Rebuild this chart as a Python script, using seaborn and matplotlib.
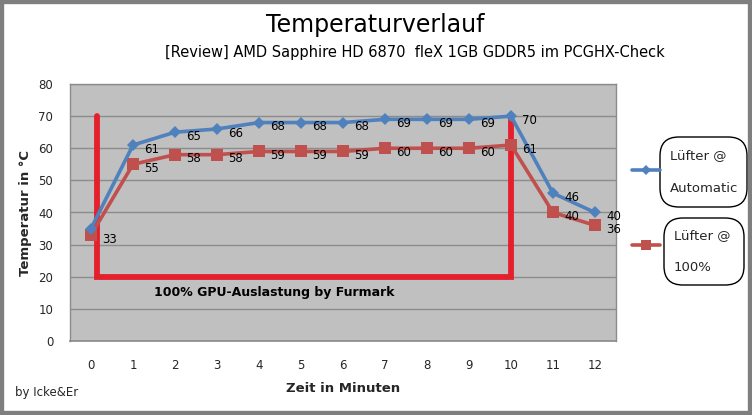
import matplotlib
matplotlib.use("Agg")
import matplotlib.pyplot as plt
import seaborn as sns
import pandas as pd
from matplotlib.patches import FancyBboxPatch, Rectangle
from matplotlib.lines import Line2D

minutes = [0, 1, 2, 3, 4, 5, 6, 7, 8, 9, 10, 11, 12]
auto_vals = [35, 61, 65, 66, 68, 68, 68, 69, 69, 69, 70, 46, 40]
full_vals = [33, 55, 58, 58, 59, 59, 59, 60, 60, 60, 61, 40, 36]
series_names = ["Lüfter @\n\nAutomatic", "Lüfter @\n\n100%"]
auto_labels_shown = [False] + [True] * 12
full_labels_shown = [True] * 13
y_ticks = [0, 10, 20, 30, 40, 50, 60, 70, 80]
box_x = [0.14, 0.14, 10, 10]
box_y = [70, 20, 20, 70]

sns.set_theme(style="white")
plt.rcParams['font.family'] = ['DejaVu Sans']

BLUE = "#4F81BD"
RED = "#C0504D"

fig = plt.figure(figsize=(7.52, 4.15), dpi=100)
fig.patch.set_facecolor("white")
ax = fig.add_axes([70/752, 74/415, 546/752, 257/415])
ax.set_facecolor("#C0C0C0")

df = pd.DataFrame({"min": minutes * 2,
                   "temp": auto_vals + full_vals,
                   "series": [series_names[0]] * 13 + [series_names[1]] * 13})

for y in y_ticks[1:]:
    ax.axhline(y, color="#8C8C8C", lw=1, zorder=1)

# red load box
ax.plot(box_x, box_y, color="#E3202B", lw=4.2, zorder=2, solid_joinstyle="miter")

sns.lineplot(data=df[df.series == series_names[0]], x="min", y="temp", color=BLUE,
             lw=2.6, marker="D", markersize=6, markeredgewidth=0, ax=ax, zorder=4,
             legend=False)
sns.lineplot(data=df[df.series == series_names[1]], x="min", y="temp", color=RED,
             lw=2.6, marker="s", markersize=8.5, markeredgewidth=0, ax=ax, zorder=3,
             legend=False)

for x, v, s in zip(minutes, auto_vals, auto_labels_shown):
    if s:
        ax.annotate(str(v), (x, v), xytext=(8, -3), textcoords="offset points",
                    ha="left", va="center", fontsize=8.5, color="black", zorder=5)
for x, v, s in zip(minutes, full_vals, full_labels_shown):
    ax.annotate(str(v), (x, v), xytext=(8, -3), textcoords="offset points",
                ha="left", va="center", fontsize=8.5, color="black", zorder=5)

ax.text(1.5, 15, "100% GPU-Auslastung by Furmark", fontsize=9, fontweight="bold",
        ha="left", va="center", color="black")

ax.set_xlim(-0.5, 12.5)
ax.set_ylim(0, 80)
ax.set_xticks(minutes)
ax.set_xticklabels([str(m) for m in minutes])
ax.set_yticks(y_ticks)
ax.tick_params(axis="x", length=0, pad=13, labelsize=8.5)
ax.tick_params(axis="y", length=0, pad=12, labelsize=8.5)
for sp in ["left", "right", "top"]:
    ax.spines[sp].set_color("#8C8C8C")
    ax.spines[sp].set_linewidth(1)
ax.spines["bottom"].set_color("#8C8C8C")
ax.set_xlabel("Zeit in Minuten", fontsize=9.5, fontweight="bold", labelpad=7)
ax.set_ylabel("Temperatur in °C", fontsize=9.5, fontweight="bold", labelpad=5)

fig.text(375/752, 1 - 25/415, "Temperaturverlauf", ha="center", va="center",
         fontsize=17, color="black")
fig.text(415/752, 1 - 53/415, "[Review] AMD Sapphire HD 6870  fleX 1GB GDDR5 im PCGHX-Check",
         ha="center", va="center", fontsize=10.5, color="black")
fig.text(15/752, 1 - 392/415, "by Icke&Er", ha="left", va="center", fontsize=8.5)

# legend
W, H = 752, 415
def fx(px):
    return px / W
def fy(py):
    return 1 - py / H
fig.add_artist(Line2D([fx(632), fx(660)], [fy(170), fy(170)], color=BLUE, lw=2.6))
fig.add_artist(Line2D([fx(632), fx(660)], [fy(245), fy(245)], color=RED, lw=2.6))
fig.add_artist(Line2D([fx(646)], [fy(245)], color=RED, marker="s", markersize=7,
                      markeredgewidth=0, lw=0))
fig.add_artist(Line2D([fx(646)], [fy(170)], color=BLUE, marker="D", markersize=5,
                      markeredgewidth=0, lw=0))
for (x0, y0, x1, y1), name in zip([(660, 137, 747, 207), (664, 218, 744, 285)], series_names):
    fig.add_artist(FancyBboxPatch((fx(x0), fy(y1)), fx(x1 - x0), (y1 - y0) / H,
                                  boxstyle="round,pad=0,rounding_size=0.025",
                                  transform=fig.transFigure, fc="white", ec="black", lw=1,
                                  mutation_aspect=W / H))
    fig.text(fx(x0 + 10), fy((y0 + y1) / 2), name, ha="left", va="center", fontsize=9.5,
             linespacing=1.3)

# outer grey frame
fig.add_artist(Rectangle((0, 0), 1, 1, transform=fig.transFigure, fill=False,
                         ec="#7F7F7F", lw=6))

fig.savefig("out.png", dpi=100, facecolor="white")
